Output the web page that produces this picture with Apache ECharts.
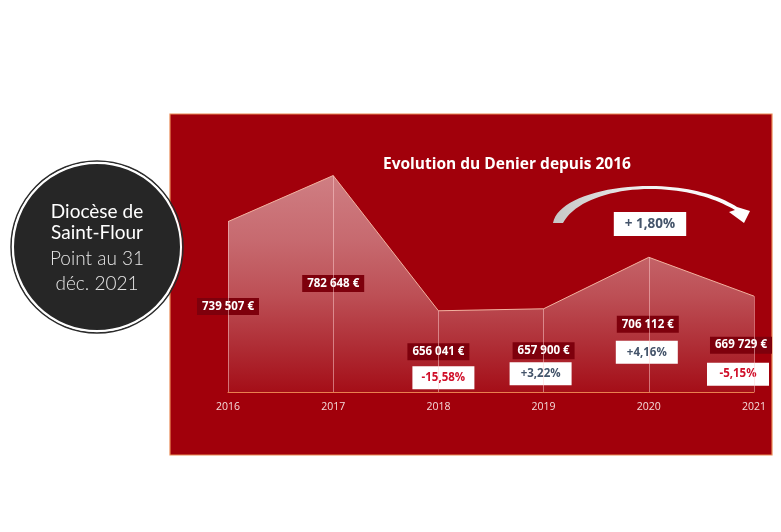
<!DOCTYPE html>
<html>
<head>
<meta charset="utf-8">
<script src="https://cdn.jsdelivr.net/npm/echarts@6/dist/echarts.min.js"></script>
<style>
  html, body { margin: 0; padding: 0; background: #fff; }
  #chart { width: 781px; height: 532px; }
</style>
</head>
<body>
<div id="chart"></div>
<script>
const years = ["2016", "2017", "2018", "2019", "2020", "2021"];
const denier = [739507, 782648, 656041, 657900, 706112, 669729];
const changes = [null, null, "-15,58%", "+3,22%", "+4,16%", "-5,15%"];
const overallChange = "+ 1,80%";
const titleText = "Evolution du Denier depuis 2016";

// where each label box sits relative to its point (px)
const valueOffsets = [[0, 85], [0, 108], [0, 41], [0, 42], [-1, 67], [-13, 49]];
const changeOffsets = [null, null, [5, 67], [-3, 65], [-2, 95], [-16, 78]];

const fmtEuro = (v) => String(v).replace(/\B(?=(\d{3})+(?!\d))/g, " ") + " €";

// sample a cubic bezier into points (for the decorative arrow)
function bez(p0, p1, p2, p3, n) {
  const pts = [];
  for (let k = 0; k <= n; k++) {
    const t = k / n, u = 1 - t;
    pts.push([
      u * u * u * p0[0] + 3 * u * u * t * p1[0] + 3 * u * t * t * p2[0] + t * t * t * p3[0],
      u * u * u * p0[1] + 3 * u * u * t * p1[1] + 3 * u * t * t * p2[1] + t * t * t * p3[1],
    ]);
  }
  return pts;
}
const arrowPts = [].concat(
  bez([553, 223], [557, 201], [600, 186], [650, 186], 20),
  bez([650, 186], [690, 186], [720, 196], [737, 207], 20),
  [[750, 211], [744, 223], [729, 212], [735, 210]],
  bez([735, 210], [716, 199], [688, 189], [650, 189], 20),
  bez([650, 189], [610, 189], [574, 202], [563, 223], 20)
);

const chart = echarts.init(document.getElementById("chart"));

const dropLines = denier.map((v, i) => [
  { coord: [i, v] },
  { coord: [i, 580000] },
]);

const option = {
  backgroundColor: "#ffffff",
  animation: false,
  title: {
    text: titleText,
    left: 383,
    top: 157,
    padding: 0,
    textStyle: {
      color: "#ffffff",
      fontFamily: "Open Sans",
      fontWeight: "bold",
      fontSize: 15.5,
    },
  },
  grid: { left: 228, right: 27, top: 157, bottom: 140 },
  xAxis: {
    type: "category",
    data: years,
    boundaryGap: false,
    axisLine: { lineStyle: { color: "#e9804f", width: 1 } },
    axisTick: { show: false },
    axisLabel: {
      color: "#f4dada",
      fontFamily: "Open Sans",
      fontSize: 10.5,
      margin: 10,
    },
    z: 5,
  },
  yAxis: {
    type: "value",
    min: 580000,
    max: 800000,
    show: false,
    splitLine: { show: false },
  },
  graphic: [
    {
      type: "rect",
      shape: { x: 170, y: 114, width: 602, height: 341 },
      style: { fill: "#a1000b", stroke: "#ea8a55", lineWidth: 1.2 },
      z: -10,
      silent: true,
    },
    {
      type: "polygon",
      shape: { points: arrowPts },
      style: {
        fill: new echarts.graphic.LinearGradient(0, 0, 1, 0, [
          { offset: 0, color: "#c6c6c6" },
          { offset: 0.5, color: "#f2f2f2" },
          { offset: 1, color: "#ffffff" },
        ]),
      },
      z: 10,
    },
    {
      type: "text",
      x: 650,
      y: 224,
      style: {
        text: overallChange,
        fill: "#44546a",
        font: "bold 13.5px 'Open Sans'",
        align: "center",
        verticalAlign: "middle",
        backgroundColor: "#ffffff",
        padding: [5, 11, 5, 11],
      },
      z: 10,
    },
    // badge
    {
      type: "circle",
      shape: { cx: 97, cy: 247, r: 86 },
      style: { fill: "none", stroke: "#2b2b2b", lineWidth: 1.5 },
      z: 20,
    },
    {
      type: "circle",
      shape: { cx: 97, cy: 247, r: 84 },
      style: { fill: "#262626", stroke: "#ffffff", lineWidth: 2 },
      z: 20,
    },
    {
      type: "text",
      x: 97,
      y: 212,
      style: { text: "Diocèse de", fill: "#ffffff", font: "19px Lato", align: "center", verticalAlign: "middle" },
      z: 22,
    },
    {
      type: "text",
      x: 97,
      y: 233,
      style: { text: "Saint-Flour", fill: "#ffffff", font: "19px Lato", align: "center", verticalAlign: "middle" },
      z: 22,
    },
    {
      type: "text",
      x: 97,
      y: 259,
      style: { text: "Point au 31", fill: "#e6e6e6", font: "300 19px Lato", align: "center", verticalAlign: "middle" },
      z: 22,
    },
    {
      type: "text",
      x: 97,
      y: 284,
      style: { text: "déc. 2021", fill: "#e6e6e6", font: "300 19px Lato", align: "center", verticalAlign: "middle" },
      z: 22,
    },
  ],
  series: [
    {
      name: "Denier",
      type: "line",
      data: denier.map((v, i) => ({
        value: v,
        label: { offset: valueOffsets[i] },
      })),
      symbol: "circle",
      symbolSize: 1,
      showSymbol: true,
      itemStyle: { color: "rgba(0,0,0,0)" },
      lineStyle: { color: "#f2b2a0", width: 1 },
      areaStyle: {
        origin: "start",
        color: new echarts.graphic.LinearGradient(0, 0, 0, 1, [
          { offset: 0, color: "#e3b4b6" },
          { offset: 0.3, color: "#d7979a" },
          { offset: 0.55, color: "#c97276" },
          { offset: 0.8, color: "#b43e45" },
          { offset: 1, color: "#a6141d" },
        ]),
      },
      label: {
        show: true,
        position: "inside",
        formatter: (p) => fmtEuro(p.value),
        color: "#ffffff",
        fontFamily: "Open Sans",
        fontWeight: "bold",
        fontSize: 11.5,
        backgroundColor: "#7e000c",
        padding: [3, 5, 2, 5],
      },
      markLine: {
        silent: true,
        symbol: "none",
        label: { show: false },
        lineStyle: { color: "rgba(255,210,210,0.5)", type: "solid", width: 1 },
        data: dropLines,
      },
      z: 3,
    },
    {
      name: "Variation",
      type: "line",
      data: denier.map((v, i) => ({
        value: v,
        label: changes[i]
          ? {
              show: true,
              offset: changeOffsets[i],
              color: changes[i].startsWith("-") ? "#d0102a" : "#44546a",
            }
          : { show: false },
      })),
      symbol: "circle",
      symbolSize: 1,
      showSymbol: true,
      itemStyle: { color: "rgba(0,0,0,0)" },
      lineStyle: { opacity: 0 },
      label: {
        position: "inside",
        formatter: (p) => changes[p.dataIndex] || "",
        fontFamily: "Open Sans",
        fontWeight: "bold",
        fontSize: 11.5,
        backgroundColor: "#ffffff",
        padding: [6, 8, 5, 8],
        width: 46,
        align: "center",
      },
      z: 4,
    },
  ],
};

chart.setOption(option);
</script>
</body>
</html>
